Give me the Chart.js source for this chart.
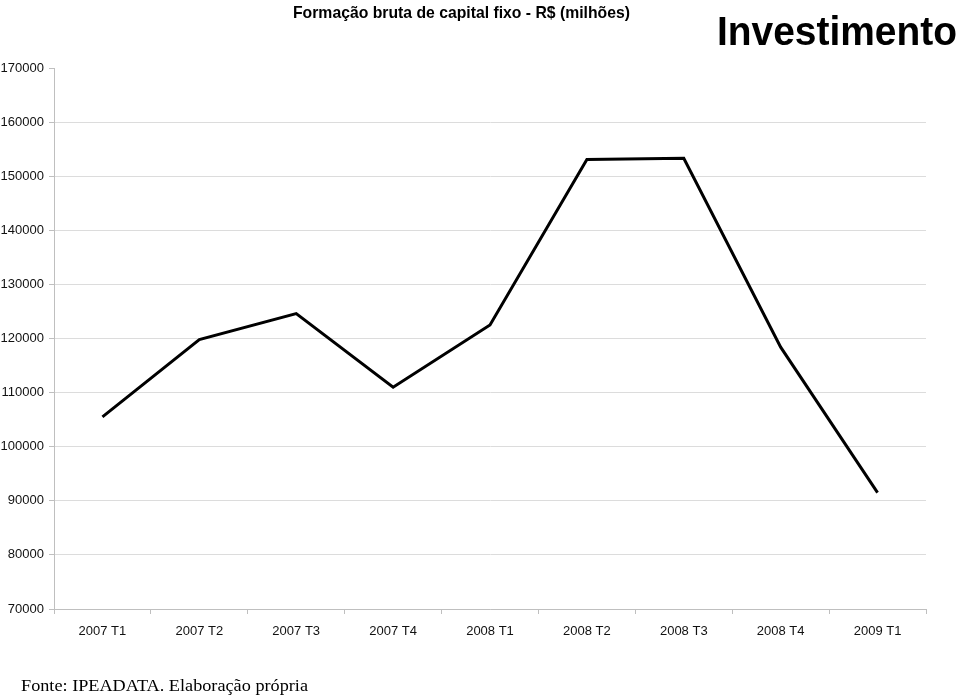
<!DOCTYPE html>
<html>
<head>
<meta charset="utf-8">
<script src="https://cdn.jsdelivr.net/npm/chart.js@4/dist/chart.umd.min.js"></script>
<style>
  html, body { margin: 0; padding: 0; background: #fff; }
  #wrap { position: relative; width: 960px; height: 697px; overflow: hidden; }
  canvas { position: absolute; left: 0; top: 0; }
  .txt { position: absolute; white-space: nowrap; transform-origin: 0 0; line-height: 1; color: #000; }
  #title { font-family: 'Liberation Sans', Arial, sans-serif; font-weight: bold; font-size: 16.5px; }
  #big { font-family: 'Liberation Sans', Arial, sans-serif; font-weight: bold; font-size: 41px; }
  #src { font-family: 'Liberation Serif', 'Times New Roman', serif; font-size: 17.5px; }
</style>
</head>
<body>
<div id="wrap">
  <canvas id="c" width="960" height="697"></canvas>
  <div class="txt" id="title"></div>
  <div class="txt" id="big"></div>
  <div class="txt" id="src"></div>
</div>
<script>
const categories = ['2007 T1','2007 T2','2007 T3','2007 T4','2008 T1','2008 T2','2008 T3','2008 T4','2009 T1'];
const investimento = [105500, 119800, 124600, 111000, 122500, 153100, 153300, 118400, 91500];
const yMin = 70000;
const yMax = 170000;
const yStep = 10000;
const chartTitle = 'Formação bruta de capital fixo - R$ (milhões)';
const sideTitle = 'Investimento';
const sourceText = 'Fonte: IPEADATA. Elaboração própria';

document.getElementById('title').textContent = chartTitle;
document.getElementById('big').textContent = sideTitle;
document.getElementById('src').textContent = sourceText;

function place(id, left, top, targetWidth) {
  const el = document.getElementById(id);
  el.style.left = left + 'px';
  el.style.top = top + 'px';
  const w = el.getBoundingClientRect().width;
  if (targetWidth && w > 0) el.style.transform = 'scaleX(' + (targetWidth / w) + ')';
}
place('title', 293, 4, 337);
place('big', 717, 11, 240);
place('src', 21, 677, 287);

Chart.defaults.font.family = "'Liberation Sans', Arial, sans-serif";
const gridGray = '#dcdcdc';
const axisGray = '#bfbfbf';

new Chart(document.getElementById('c'), {
  type: 'line',
  data: {
    labels: categories,
    datasets: [{
      data: investimento,
      borderColor: '#000',
      borderWidth: 3,
      pointRadius: 0,
      tension: 0,
      fill: false
    }]
  },
  options: {
    responsive: false,
    devicePixelRatio: 1,
    animation: false,
    layout: { padding: { top: 68, right: 34, left: 0, bottom: 0 } },
    plugins: { legend: { display: false }, tooltip: { enabled: false }, title: { display: false } },
    scales: {
      x: {
        type: 'category',
        offset: true,
        grid: { offset: true, drawOnChartArea: false, tickLength: 5, color: axisGray },
        border: { color: axisGray, width: 1 },
        ticks: { font: { size: 13 }, color: '#111', padding: 10, maxRotation: 0, autoSkip: false },
        afterFit: s => { s.height = 88; }
      },
      y: {
        min: yMin,
        max: yMax,
        ticks: { stepSize: yStep, font: { size: 13 }, color: '#111', padding: 5, callback: v => String(v) },
        grid: {
          color: ctx => (ctx.tick && ctx.tick.value === yMax) ? 'rgba(0,0,0,0)' : gridGray,
          tickColor: axisGray,
          tickLength: 5
        },
        border: { color: axisGray, width: 1 },
        afterFit: s => { s.width = 54; }
      }
    }
  }
});
</script>
</body>
</html>
